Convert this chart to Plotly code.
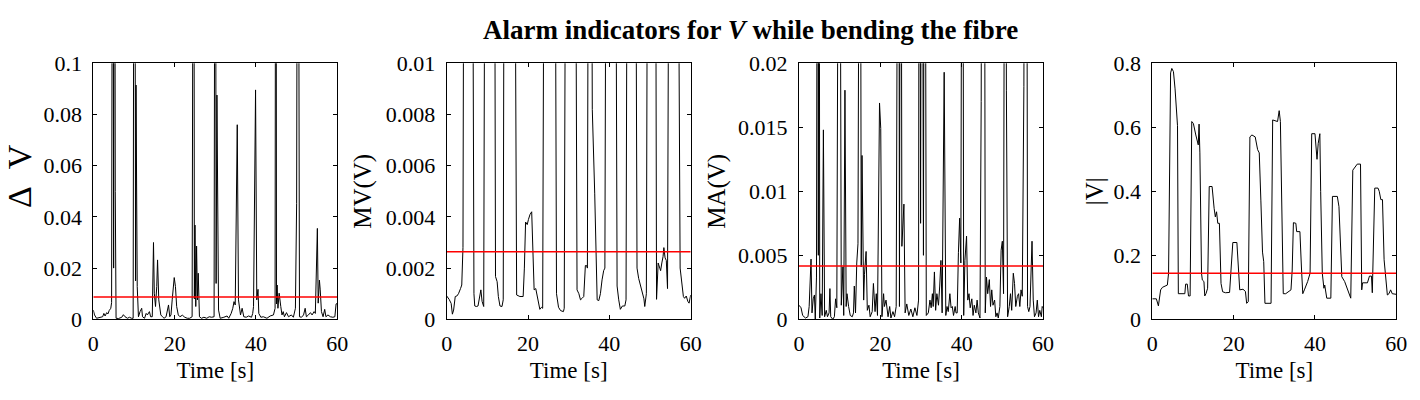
import plotly.graph_objects as go

# time axis ticks shared by all four panels
time_ticks = [0, 20, 40, 60]

# --- Delta V ---
dv_t = [0, 0.3, 0.8, 1.6, 2.3, 2.6, 2.9, 3.3, 3.6, 3.9, 4.3, 4.5, 4.8, 5.0, 5.2, 5.4, 5.6,
        6.2, 7.0, 7.4, 7.8, 8.4, 8.9, 9.4, 9.8, 10.1, 10.4, 10.5, 10.8, 11.1, 11.5, 11.9, 12.1,
        12.6, 13.0, 13.3, 13.8, 14.1, 14.5, 14.8, 15.0, 15.3, 15.6, 15.8, 16.1, 16.3, 16.6,
        17.0, 17.4, 17.9, 18.2, 18.5, 18.8, 19.1, 19.4, 19.7, 19.9, 20.2, 20.5, 20.9, 21.3,
        21.9, 22.5, 23.1, 23.7, 24.3, 24.7, 24.85, 25.0, 25.2, 25.4, 25.6, 25.8, 26.1, 26.6,
        27.2, 27.9, 28.5, 29.1, 29.7, 30.0, 30.2, 30.4, 30.8, 31.2, 32.1, 32.9, 33.3, 33.9,
        34.3, 34.6, 34.9, 35.4, 35.7, 35.9, 36.2, 36.6, 37.0, 37.6, 38.2, 38.9, 39.2, 39.4,
        39.9, 40.2, 40.5, 40.7, 41.2, 41.8, 42.7, 43.5, 44.3, 44.7, 44.9, 45.05, 45.2, 45.4,
        45.7, 46.1, 46.4, 46.7, 47.0, 47.5, 48.0, 48.7, 49.2, 49.7, 50.0, 50.3, 50.7, 51.2,
        51.7, 52.1, 52.4, 52.9, 53.4, 53.8, 54.3, 54.6, 55.1, 55.3, 55.6, 55.8, 56.1, 56.5,
        56.9, 57.2, 57.7, 58.3, 58.9, 59.4, 59.7, 60]
dv_v = [0.0036, 0.0017, 0.0004, 0.0008, 0.001, 0.0023, 0.0013, 0.0026, 0.0021, 0.0034, 0.0043,
        0.0065, 0.3, 0.02, 0.3, 0.05, 0.0004,
        0.0003, 0.0008, 0.0018, 0.001, 0.0004, 0.0008, 0.0004, 0.0004, 0.3, 0.015, 0.0915,
        0.0128, 0.001, 0.003, 0.0043, 0.001,
        0.0004, 0.0023, 0.0017, 0.003, 0.001, 0.001, 0.030, 0.0102, 0.005, 0.0128, 0.0232,
        0.0076, 0.0056, 0.0017,
        0.001, 0.0004, 0.001, 0.003, 0.0056, 0.001, 0.0017, 0.0076, 0.0128, 0.0163, 0.0128,
        0.005, 0.0017, 0.001,
        0.0016, 0.0008, 0.0004, 0.0004, 0.001, 0.3, 0.008, 0.0368, 0.005, 0.0286, 0.0076,
        0.018, 0.001, 0.0004,
        0.0008, 0.0004, 0.001, 0.0008, 0.001, 0.3, 0.014, 0.0876, 0.0036, 0.0004, 0.0008,
        0.0013, 0.0004, 0.0023,
        0.0043, 0.0069, 0.0056, 0.076, 0.0076, 0.005, 0.0017, 0.0043, 0.001, 0.0008, 0.0013,
        0.0008, 0.0023, 0.005,
        0.0896, 0.0076, 0.0117, 0.0023, 0.0008, 0.001, 0.0004, 0.0013, 0.0017, 0.0043, 0.3,
        0.006, 0.0134, 0.0043,
        0.0102, 0.005, 0.0017, 0.003, 0.001, 0.0026, 0.001, 0.0017, 0.0008, 0.0043, 0.0453,
        0.3, 0.001, 0.0008,
        0.0017, 0.0043, 0.001, 0.0017, 0.0026, 0.0017, 0.003, 0.0023, 0.0355, 0.0063, 0.0153,
        0.0115, 0.003, 0.001,
        0.0039, 0.001, 0.0017, 0.001, 0.0008, 0.001, 0.006, 0.0062]
dv_threshold = 0.0087
dv_ticks = [0, 0.02, 0.04, 0.06, 0.08, 0.1]
dv_ticktext = ["0", "0.02", "0.04", "0.06", "0.08", "0.1"]

# --- MV(V) ---
mv_t = [0, 0.6, 1.1, 1.4, 1.7, 2.1, 2.5, 2.9, 3.4, 3.7, 4.0, 4.4, 6.1, 6.7, 6.9, 7.3, 7.7,
        8.1, 8.4, 8.7, 9.1, 9.6, 11.6, 12.0, 12.4, 12.7, 13.1, 13.6, 13.9, 14.3, 16.4, 17.2,
        18.0, 18.8, 19.1, 19.4, 19.8, 20.1, 20.5, 20.9, 21.1, 21.5, 21.9, 22.3, 22.7, 22.9,
        23.3, 23.6, 24.2, 26.4, 27.0, 27.5, 28.0, 28.7, 28.9, 29.5, 31.4, 32.05, 32.5, 32.9,
        33.3, 33.7, 34.1, 34.4, 34.6, 35.0, 35.4, 35.8, 36.4, 37.0, 37.4, 37.8, 38.2, 38.6,
        38.9, 39.4, 41.3, 41.9, 42.3, 42.7, 43.2, 43.8, 44.1, 44.6, 46.2, 46.8, 47.2, 47.7,
        48.1, 48.5, 48.7, 49.1, 49.6, 51.2, 51.6, 52.0, 52.4, 52.6, 52.9, 53.2, 53.4, 53.7,
        54.0, 54.3, 54.9, 56.5, 57.4, 57.8, 58.2, 58.5, 58.9, 59.3, 59.6, 60]
mv_v = [0.00091, 0.00078, 0.00062, 0.0002, 0.00036, 0.00089, 0.00091, 0.001, 0.0012, 0.00134,
        0.0028, 0.03, 0.03, 0.001, 0.00052, 0.0005, 0.00052,
        0.00082, 0.00115, 0.0007, 0.0005, 0.03, 0.03, 0.00167, 0.00147, 0.00089, 0.00052,
        0.0005, 0.00076, 0.03, 0.03, 0.00095,
        0.00089, 0.00089, 0.0020, 0.0038, 0.0037, 0.0039, 0.0041, 0.0042, 0.003, 0.00115,
        0.0012, 0.00082, 0.00056, 0.00039,
        0.00047, 0.00043, 0.03, 0.03, 0.001, 0.00047, 0.00034, 0.0003, 0.00043, 0.03, 0.03,
        0.00115, 0.001, 0.00076,
        0.00082, 0.00089, 0.0021, 0.0021, 0.002, 0.03, 0.03, 0.0082, 0.0049, 0.00076,
        0.00073, 0.001, 0.00154, 0.0019,
        0.002, 0.03, 0.03, 0.0013, 0.00076, 0.00039, 0.00052, 0.00052, 0.00076, 0.03, 0.03,
        0.002, 0.0016, 0.0013,
        0.001, 0.0008, 0.0005, 0.001, 0.03, 0.03, 0.00078, 0.0022, 0.0020, 0.0019, 0.0022,
        0.00245, 0.0028, 0.0024,
        0.0023, 0.0012, 0.03, 0.03, 0.002, 0.0013, 0.00089, 0.00082, 0.00091, 0.0007,
        0.00063, 0.00095]
mv_threshold = 0.00264
mv_ticks = [0, 0.002, 0.004, 0.006, 0.008, 0.01]
mv_ticktext = ["0", "0.002", "0.004", "0.006", "0.008", "0.01"]

# --- MA(V) ---
ma_t = [0, 0.5, 0.9, 1.6, 2.2, 2.5, 2.96, 3.2, 3.5, 3.8, 4.0, 4.3, 4.6, 4.75, 4.9, 5.1, 5.4,
        5.7, 6.0, 6.3, 6.7, 7.0, 7.4, 7.6, 7.8, 8.3, 8.7, 9.0, 9.3, 9.9, 10.4, 10.8, 11.0,
        11.3, 11.6, 11.8, 12.2, 12.6, 13.1, 13.4, 13.6, 13.9, 14.2, 14.5, 15.0, 15.3, 15.5,
        15.9, 16.1, 16.5, 16.8, 17.2, 17.5, 18.0, 18.3, 18.7, 19.0, 19.3, 19.8, 20.1, 20.4,
        20.8, 21.0, 21.4, 21.9, 22.3, 22.6, 23.1, 23.5, 23.9, 24.5, 24.7, 25.0, 25.3, 25.8,
        26.1, 26.5, 27.0, 27.5, 28.0, 28.5, 29.0, 29.4, 29.6, 29.9, 30.2, 30.6, 30.9, 31.3,
        31.8, 32.2, 32.5, 32.8, 33.0, 33.3, 33.6, 33.9, 34.3, 34.6, 34.9, 35.2, 35.7, 36.1,
        36.4, 36.7, 37.1, 37.4, 37.7, 38.0, 38.4, 38.6, 38.9, 39.2, 39.5, 39.8, 40.2, 40.5,
        40.8, 41.2, 41.5, 41.8, 42.1, 42.5, 42.8, 43.1, 43.5, 43.8, 44.1, 44.5, 44.8, 45.1,
        45.5, 45.8, 46.1, 46.4, 46.8, 47.1, 47.4, 47.7, 48.1, 48.4, 48.7, 49.0, 49.4, 49.7,
        50.0, 50.3, 50.7, 51.0, 51.3, 51.7, 52.0, 52.3, 52.7, 53.0, 53.3, 53.7, 54.0, 54.3,
        54.6, 54.9, 55.3, 55.6, 55.9, 56.2, 56.5, 56.8, 57.3, 57.6, 57.9, 58.3, 58.6, 58.9,
        59.2, 59.6, 59.8, 60]
ma_v = [0.0011, 0.0009, 0.0003, 0.0001, 0.0002, 0.001, 0.0047, 0.0005, 0.0016, 0.0019, 0.0,
        0.0033, 0.06, 0.005, 0.06, 0.0001, 0.002,
        0.0003, 0.0148, 0.0002, 0.0007, 0.0002, 0.0005, 0.0024, 0.0002, 0.0, 0.0002, 0.0016,
        0.0009, 0.06, 0.0011, 0.0041, 0.0003,
        0.0179, 0.001, 0.002, 0.001, 0.0003, 0.0002, 0.0005, 0.0026, 0.0005, 0.0044, 0.0059,
        0.06, 0.0041, 0.0128,
        0.0015, 0.0035, 0.0053, 0.0007, 0.0011, 0.0002, 0.0006, 0.0028, 0.0006, 0.002,
        0.0003, 0.0169, 0.0149, 0.0002,
        0.002, 0.001, 0.0015, 0.0002, 0.001, 0.0001, 0.0006, 0.0002, 0.001, 0.06, 0.001,
        0.06, 0.0057, 0.009,
        0.0005, 0.0012, 0.0003, 0.0008, 0.0002, 0.0009, 0.0003, 0.0015, 0.06, 0.0075, 0.06,
        0.005, 0.06, 0.0003,
        0.0005, 0.0015, 0.0009, 0.002, 0.001, 0.0037, 0.0007, 0.002, 0.0011, 0.0026, 0.0046,
        0.0005, 0.0193, 0.0003,
        0.001, 0.0006, 0.002, 0.0009, 0.001, 0.0003, 0.001, 0.0005, 0.0005, 0.0052, 0.0079,
        0.0044, 0.06, 0.0003,
        0.0046, 0.0065, 0.0015, 0.002, 0.0009, 0.0016, 0.0003, 0.0011, 0.0005, 0.0015,
        0.0005, 0.0001, 0.017, 0.06,
        0.06, 0.0005, 0.0033, 0.002, 0.0031, 0.001, 0.0023, 0.0011, 0.0015, 0.0002, 0.0005,
        0.0001, 0.001, 0.0054,
        0.0061, 0.002, 0.06, 0.0179, 0.0002, 0.001, 0.002, 0.0007, 0.0036, 0.0028, 0.001,
        0.0018, 0.002, 0.001,
        0.0023, 0.0018, 0.0182, 0.06, 0.06, 0.001, 0.0006, 0.001, 0.0061, 0.0015, 0.0002,
        0.0005, 0.0015, 0.0002,
        0.0007, 0.0002, 0.001, 0.0009]
ma_threshold = 0.00417
ma_ticks = [0, 0.005, 0.01, 0.015, 0.02]
ma_ticktext = ["0", "0.005", "0.01", "0.015", "0.02"]

# --- |V| ---
absv_t = [0, 1.0, 1.5, 2.05, 2.5, 3.0, 3.7, 4.0, 4.3, 4.5, 4.8, 5.2, 5.6, 6.0, 6.2, 6.4, 8.0,
          8.2, 8.6, 8.9, 9.3, 9.7, 10.1, 10.7, 11.3, 11.5, 11.7, 12.1, 12.3, 12.7, 12.9, 13.2,
          13.6, 14.0, 14.7, 15.2, 15.5, 15.8, 16.1, 16.5, 16.9, 17.3, 18.0, 19.0, 19.4, 19.8,
          20.8, 21.1, 21.5, 22.3, 22.9, 23.2, 23.6, 24.0, 24.5, 25.3, 25.9, 26.3, 26.5, 26.7,
          27.1, 27.4, 27.7, 29.2, 29.6, 30.8, 31.2, 31.5, 32.2, 32.8, 34.1, 34.4, 34.7, 35.3,
          35.5, 36.3, 36.7, 37.0, 37.4, 38.2, 38.8, 39.2, 40.0, 40.5, 40.8, 41.2, 41.4, 41.8,
          42.2, 42.4, 42.9, 43.9, 44.3, 45.5, 45.9, 46.3, 46.6, 47.3, 47.8, 48.3, 48.8, 49.3,
          50.0, 50.4, 51.2, 51.5, 51.7, 52.9, 53.4, 53.9, 54.1, 54.7, 55.5, 55.8, 56.2, 56.6,
          57.0, 57.4, 57.8, 58.2, 58.6, 59.0, 59.4, 60]
absv_v = [0.064, 0.064, 0.042, 0.092, 0.10, 0.104, 0.107, 0.144, 0.55, 0.77, 0.784, 0.774,
          0.72, 0.61, 0.605, 0.08, 0.08,
          0.11, 0.11, 0.073, 0.073, 0.618, 0.612, 0.576, 0.545, 0.61, 0.52, 0.144, 0.123,
          0.118, 0.073, 0.08,
          0.097, 0.415, 0.415, 0.347, 0.32, 0.336, 0.3, 0.3, 0.112, 0.086, 0.083, 0.084,
          0.175, 0.24,
          0.24, 0.18, 0.092, 0.094, 0.087, 0.05, 0.055, 0.57, 0.576, 0.57, 0.53, 0.52, 0.4,
          0.37,
          0.21, 0.18, 0.05, 0.05, 0.623, 0.618, 0.652, 0.618, 0.08, 0.08, 0.092, 0.154, 0.302,
          0.3,
          0.274, 0.274, 0.154, 0.08, 0.092, 0.118, 0.144, 0.58, 0.58, 0.5, 0.55, 0.58, 0.4,
          0.144,
          0.097, 0.107, 0.066, 0.066, 0.384, 0.384, 0.352, 0.227, 0.133, 0.118, 0.102, 0.08,
          0.066, 0.466,
          0.476, 0.485, 0.485, 0.092, 0.114, 0.114, 0.135, 0.135, 0.083, 0.41, 0.41, 0.4,
          0.374, 0.374,
          0.186, 0.133, 0.076, 0.08, 0.092, 0.08, 0.08, 0.078]
absv_threshold = 0.144
absv_ticks = [0, 0.2, 0.4, 0.6, 0.8]
absv_ticktext = ["0", "0.2", "0.4", "0.6", "0.8"]

NB = "\u00a0"
# first panel label is drawn as an annotation (placed like the reference), the others as axis titles
panels = [
    ("", dv_t, dv_v, dv_threshold, dv_ticks, dv_ticktext),
    ("MV(V)", mv_t, mv_v, mv_threshold, mv_ticks, mv_ticktext),
    ("MA(V)", ma_t, ma_v, ma_threshold, ma_ticks, ma_ticktext),
    ("|V|", absv_t, absv_v, absv_threshold, absv_ticks, absv_ticktext),
]
dv_label = "Δ" + NB * 2 + "V"

W, H = 1420, 400
x_left_px = [93.3, 446.7, 799.0, 1152.3]
panel_w_px = 244
y_top_px, y_bot_px = 63.3, 319.3
ylabel_standoff = [3, 7, 5, 2]

FONT = "Liberation Serif, Times New Roman, serif"

fig = go.Figure()
layout = dict(
    width=W, height=H,
    margin=dict(l=0, r=0, t=0, b=0),
    paper_bgcolor="white", plot_bgcolor="white",
    showlegend=False,
    font=dict(family=FONT, size=22, color="black"),
    template="none",
)

for i, (label, t, v, thr, yt, ytt) in enumerate(panels):
    n = "" if i == 0 else str(i + 1)
    xa, ya = "x" + n, "y" + n
    fig.add_trace(go.Scatter(x=t, y=v, mode="lines", xaxis=xa, yaxis=ya,
                             line=dict(color="black", width=1)))
    fig.add_trace(go.Scatter(x=[time_ticks[0], time_ticks[-1]], y=[thr, thr], mode="lines",
                             xaxis=xa, yaxis=ya, line=dict(color="#ff0000", width=1.5)))
    axis_common = dict(showline=True, linecolor="black", linewidth=1, mirror="ticks",
                       ticks="inside", ticklen=4, tickcolor="black", showgrid=False,
                       zeroline=False, automargin=False,
                       tickfont=dict(family=FONT, size=22, color="black"))
    layout["xaxis" + n] = dict(
        domain=[x_left_px[i] / W, (x_left_px[i] + panel_w_px) / W],
        anchor=ya, range=[time_ticks[0], time_ticks[-1]],
        tickvals=time_ticks, ticktext=[str(k) for k in time_ticks], ticklabelstandoff=4,
        title=dict(text="Time [s]", font=dict(family=FONT, size=23), standoff=7),
        **axis_common)
    layout["yaxis" + n] = dict(
        domain=[1 - y_bot_px / H, 1 - y_top_px / H],
        anchor=xa, range=[yt[0], yt[-1]],
        tickvals=yt, ticktext=ytt, ticklabelstandoff=6,
        title=dict(text=label, font=dict(family=FONT, size=25),
                   standoff=ylabel_standoff[i]),
        **axis_common)

layout["annotations"] = [
    dict(text="<b>Alarm indicators for <i>V</i> while bending the fibre</b>",
         x=750 / W, y=1 - 30 / H, xref="paper", yref="paper", xanchor="center",
         yanchor="middle", showarrow=False, font=dict(family=FONT, size=27, color="black")),
    dict(text=dv_label, textangle=-90, x=20 / W, y=1 - 176 / H, xref="paper", yref="paper",
         xanchor="center", yanchor="middle", showarrow=False,
         font=dict(family=FONT, size=34, color="black")),
]

fig.update_layout(**layout)
fig.write_html("out.html", config={"displayModeBar": False},
               post_script="document.body.style.margin='0';")
